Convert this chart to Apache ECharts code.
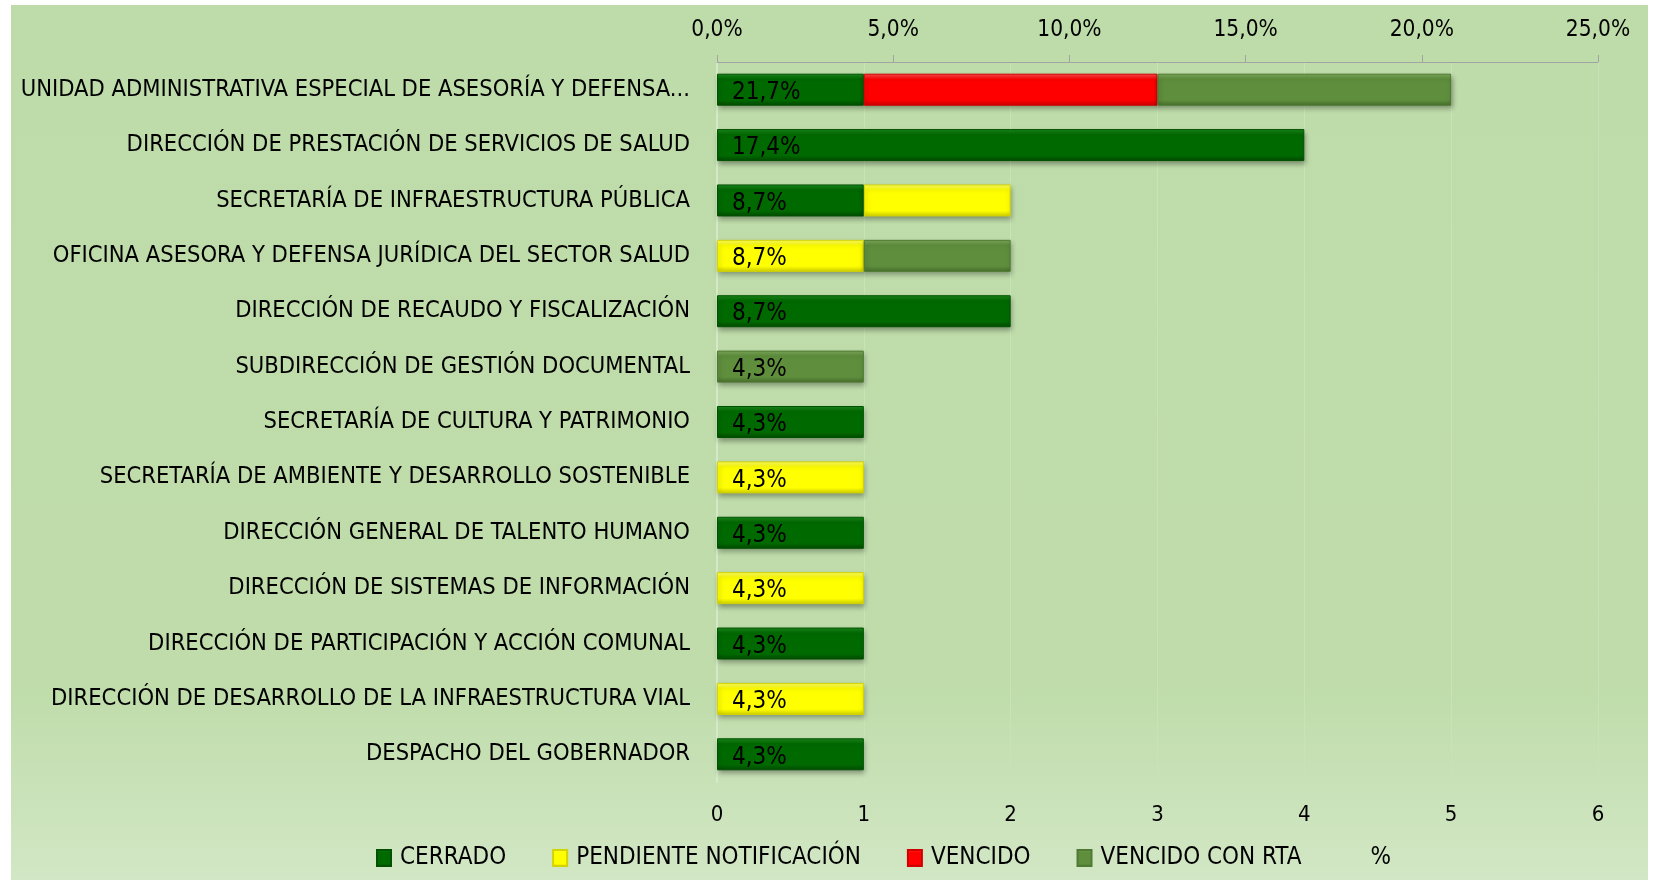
<!DOCTYPE html>
<html>
<head>
<meta charset="utf-8">
<script src="https://cdn.jsdelivr.net/npm/echarts@6/dist/echarts.min.js"></script>
<style>
  html, body { margin: 0; padding: 0; background: #ffffff; }
  #chart { position: absolute; left: 11px; top: 5px; width: 1637px; height: 875px; }
</style>
</head>
<body>
<div id="chart"></div>
<script>
const categories = [
  'UNIDAD ADMINISTRATIVA ESPECIAL DE ASESORÍA Y DEFENSA...',
  'DIRECCIÓN DE PRESTACIÓN DE SERVICIOS DE SALUD',
  'SECRETARÍA DE INFRAESTRUCTURA PÚBLICA',
  'OFICINA ASESORA Y DEFENSA JURÍDICA DEL SECTOR SALUD',
  'DIRECCIÓN DE RECAUDO Y FISCALIZACIÓN',
  'SUBDIRECCIÓN DE GESTIÓN DOCUMENTAL',
  'SECRETARÍA DE CULTURA Y PATRIMONIO',
  'SECRETARÍA DE AMBIENTE Y DESARROLLO SOSTENIBLE',
  'DIRECCIÓN GENERAL DE TALENTO HUMANO',
  'DIRECCIÓN DE SISTEMAS DE INFORMACIÓN',
  'DIRECCIÓN DE PARTICIPACIÓN Y ACCIÓN COMUNAL',
  'DIRECCIÓN DE DESARROLLO DE LA INFRAESTRUCTURA VIAL',
  'DESPACHO DEL GOBERNADOR'
];
const cerrado     = [1, 4, 1, 0, 2, 0, 1, 0, 1, 0, 1, 0, 1];
const pendiente   = [0, 0, 1, 1, 0, 0, 0, 1, 0, 1, 0, 1, 0];
const vencido     = [2, 0, 0, 0, 0, 0, 0, 0, 0, 0, 0, 0, 0];
const vencidoRta  = [2, 0, 0, 1, 0, 1, 0, 0, 0, 0, 0, 0, 0];
const porcentaje  = [21.7, 17.4, 8.7, 8.7, 8.7, 4.3, 4.3, 4.3, 4.3, 4.3, 4.3, 4.3, 4.3];
const countTicks  = [0, 1, 2, 3, 4, 5, 6];
const pctTicks    = [0, 5, 10, 15, 20, 25];

const FONT = '"Liberation Sans Narrow", "DejaVu Sans Condensed", "Liberation Sans", sans-serif';

function grad(top, mid, bottom) {
  return new echarts.graphic.LinearGradient(0, 0, 0, 1, [
    { offset: 0, color: top },
    { offset: 0.18, color: mid },
    { offset: 0.82, color: mid },
    { offset: 1, color: bottom }
  ]);
}

function stackSeries(name, data, top, mid, bottom, border) {
  return {
    name: name,
    type: 'bar',
    stack: 'total',
    xAxisIndex: 0,
    yAxisIndex: 0,
    barWidth: 32,
    silent: true,
    data: data.map(v => (v === 0 ? '-' : v)),
    itemStyle: {
      color: grad(top, mid, bottom),
      borderColor: border,
      borderWidth: 1,
      shadowColor: 'rgba(0,0,0,0.35)',
      shadowBlur: 5,
      shadowOffsetX: 1,
      shadowOffsetY: 3
    }
  };
}

const chart = echarts.init(document.getElementById('chart'), null, { renderer: 'canvas' });

chart.setOption({
  animation: false,
  backgroundColor: new echarts.graphic.LinearGradient(0, 0, 0, 1, [
    { offset: 0, color: '#BEDCA9' },
    { offset: 0.78, color: '#BFDCAA' },
    { offset: 1, color: '#D2E7C5' }
  ]),
  textStyle: { fontFamily: FONT },
  grid: { left: 706, right: 50, top: 57, bottom: 98, containLabel: false },
  legend: {
    bottom: 5,
    left: 360,
    icon: 'rect',
    itemWidth: 14,
    itemHeight: 16,
    itemGap: 46,
    textStyle: { fontFamily: FONT, fontSize: 24, color: '#000', padding: [0, 0, 0, 4] },
    data: [
      { name: 'CERRADO' },
      { name: 'PENDIENTE NOTIFICACIÓN' },
      { name: 'VENCIDO' },
      { name: 'VENCIDO CON RTA' },
      { name: '%', icon: 'rect', itemStyle: { color: 'rgba(0,0,0,0)' } }
    ]
  },
  xAxis: [
    {
      type: 'value',
      position: 'bottom',
      min: countTicks[0],
      max: countTicks[countTicks.length - 1],
      interval: 1,
      axisLine: { show: false },
      axisTick: { show: false },
      axisLabel: { fontFamily: FONT, fontSize: 22, color: '#000', margin: 22 },
      splitLine: { show: true, lineStyle: { color: '#C9E2B8', width: 1 } }
    },
    {
      type: 'value',
      position: 'top',
      min: pctTicks[0],
      max: pctTicks[pctTicks.length - 1],
      interval: 5,
      axisLine: { show: true, lineStyle: { color: '#A3A3A3', width: 1 } },
      axisTick: { show: true, length: 7, lineStyle: { color: '#A3A3A3' } },
      axisLabel: {
        fontFamily: FONT, fontSize: 22.5, color: '#000', margin: 20,
        formatter: v => v.toFixed(1).replace('.', ',') + '%'
      },
      splitLine: { show: false }
    }
  ],
  yAxis: [
    {
      type: 'category',
      inverse: true,
      data: categories,
      axisLine: { show: true, lineStyle: { color: '#D5E9C9', width: 2 } },
      axisTick: { show: false },
      axisLabel: { fontFamily: FONT, fontSize: 23.5, color: '#000', margin: 27, padding: [4, 0, 0, 0] },
      splitLine: { show: false }
    },
    {
      type: 'category',
      inverse: true,
      data: categories,
      show: false
    }
  ],
  series: [
    stackSeries('CERRADO', cerrado, '#1C8A1C', '#006A00', '#004A00', '#005200'),
    stackSeries('PENDIENTE NOTIFICACIÓN', pendiente, '#FFFF66', '#FFFF00', '#CCCC00', '#D4D400'),
    stackSeries('VENCIDO', vencido, '#FF5050', '#FF0000', '#C80000', '#D00000'),
    stackSeries('VENCIDO CON RTA', vencidoRta, '#7CAA58', '#5F8F3D', '#466E2B', '#4F7A33'),
    {
      name: '%',
      type: 'bar',
      xAxisIndex: 1,
      yAxisIndex: 1,
      barWidth: 32,
      silent: true,
      z: 5,
      data: porcentaje,
      itemStyle: { color: 'rgba(0,0,0,0)' },
      label: {
        show: true,
        position: 'insideLeft',
        distance: 15,
        offset: [0, 3],
        fontFamily: FONT,
        fontSize: 24,
        color: '#000',
        formatter: p => p.value.toFixed(1).replace('.', ',') + '%'
      }
    }
  ]
});
</script>
</body>
</html>
